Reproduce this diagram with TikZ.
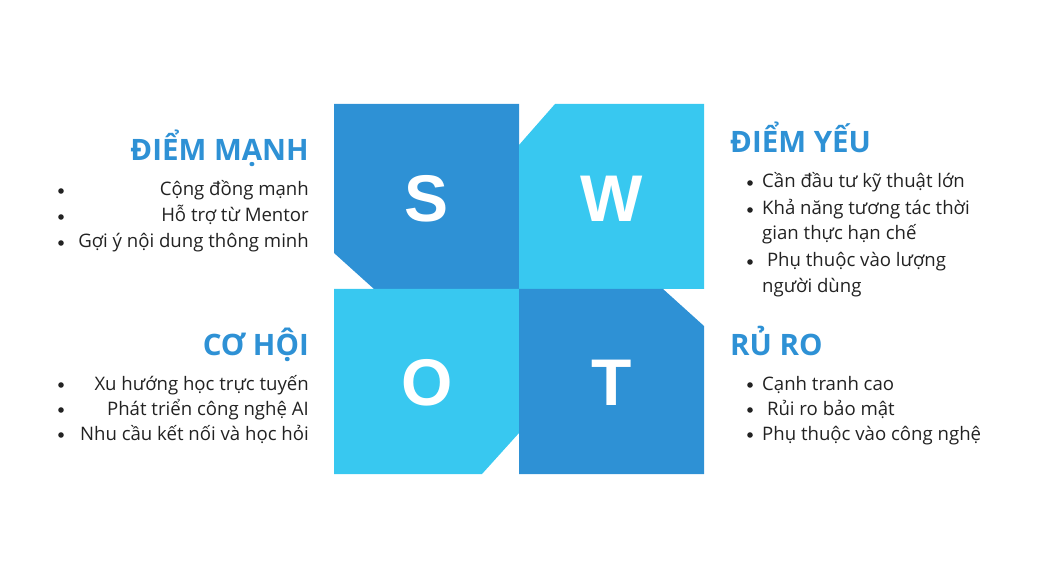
\documentclass[tikz,border=0pt]{standalone}
\usepackage{fontspec}
\setmainfont{Open Sans}
\newfontfamily\letterfont{Liberation Sans}
\definecolor{darkq}{HTML}{2E91D5}
\definecolor{lightq}{HTML}{38C8F0}
\definecolor{headc}{HTML}{2E91D5}
\definecolor{bodyc}{HTML}{222222}
\tikzset{
  letter/.style={text=white,font=\letterfont\bfseries\fontsize{66}{66}\selectfont,inner sep=0pt},
  head/.style={text=headc,font=\bfseries\fontsize{29.5}{32}\selectfont,inner sep=0pt},
  itemtxt/.style={text=bodyc,font=\fontsize{18.6}{22}\selectfont,inner sep=0pt},
  bullet/.style={fill=bodyc}
}
\begin{document}
\begin{tikzpicture}[x=1pt,y=-1pt]
\useasboundingbox (0,0) rectangle (1041,569);
% quadrants
\fill[darkq] (334,104) -- (519,104) -- (519,289) -- (374,289) -- (334,253) -- cycle;
\fill[lightq] (555,104) -- (704,104) -- (704,289) -- (519,289) -- (519,145) -- cycle;
\fill[lightq] (334,289) -- (519,289) -- (519,433) -- (482,474) -- (334,474) -- cycle;
\fill[darkq] (519,289) -- (663,289) -- (704,326) -- (704,474) -- (519,474) -- cycle;
% letters
\node[letter] (S) at (427,199) {S};
\node[letter] (W) at (612,199) {W};
\node[letter] (O) at (427,383) {O};
\node[letter] (T) at (612,383) {T};
% Strengths
\node[head,anchor=base east] (hS) at (309,161) {ĐIỂM MẠNH};
\node[itemtxt,anchor=base east] (s1) at (309,196) {Cộng đồng mạnh};
\node[itemtxt,anchor=base east] (s2) at (309,222) {Hỗ trợ từ Mentor};
\node[itemtxt,anchor=base east] (s3) at (309,248) {Gợi ý nội dung thông minh};
\foreach \y in {191,217,243} \fill[bullet] (61,\y) circle (2.8);
% Weaknesses
\node[head,anchor=base west] (hW) at (730,153) {ĐIỂM YẾU};
\node[itemtxt,anchor=base west] (w1) at (762,188) {Cần đầu tư kỹ thuật lớn};
\node[itemtxt,anchor=base west] (w2) at (762,215) {Khả năng tương tác thời};
\node[itemtxt,anchor=base west] (w2b) at (762,240) {gian thực hạn chế};
\node[itemtxt,anchor=base west] (w3) at (762,267) {\ Phụ thuộc vào lượng};
\node[itemtxt,anchor=base west] (w3b) at (762,292) {người dùng};
\foreach \y in {183,210,262} \fill[bullet] (750,\y) circle (2.8);
% Opportunities
\node[head,anchor=base east] (hO) at (309,355) {CƠ HỘI};
\node[itemtxt,anchor=base east] (o1) at (309,390) {Xu hướng học trực tuyến};
\node[itemtxt,anchor=base east] (o2) at (309,415) {Phát triển công nghệ AI};
\node[itemtxt,anchor=base east] (o3) at (309,440) {Nhu cầu kết nối và học hỏi};
\foreach \y in {385,410,435} \fill[bullet] (61,\y) circle (2.8);
% Threats
\node[head,anchor=base west] (hT) at (730,355) {RỦ RO};
\node[itemtxt,anchor=base west] (t1) at (762,390) {Cạnh tranh cao};
\node[itemtxt,anchor=base west] (t2) at (762,415) {\ Rủi ro bảo mật};
\node[itemtxt,anchor=base west] (t3) at (762,440) {Phụ thuộc vào công nghệ};
\foreach \y in {385,410,435} \fill[bullet] (750,\y) circle (2.8);
\end{tikzpicture}
\end{document}
